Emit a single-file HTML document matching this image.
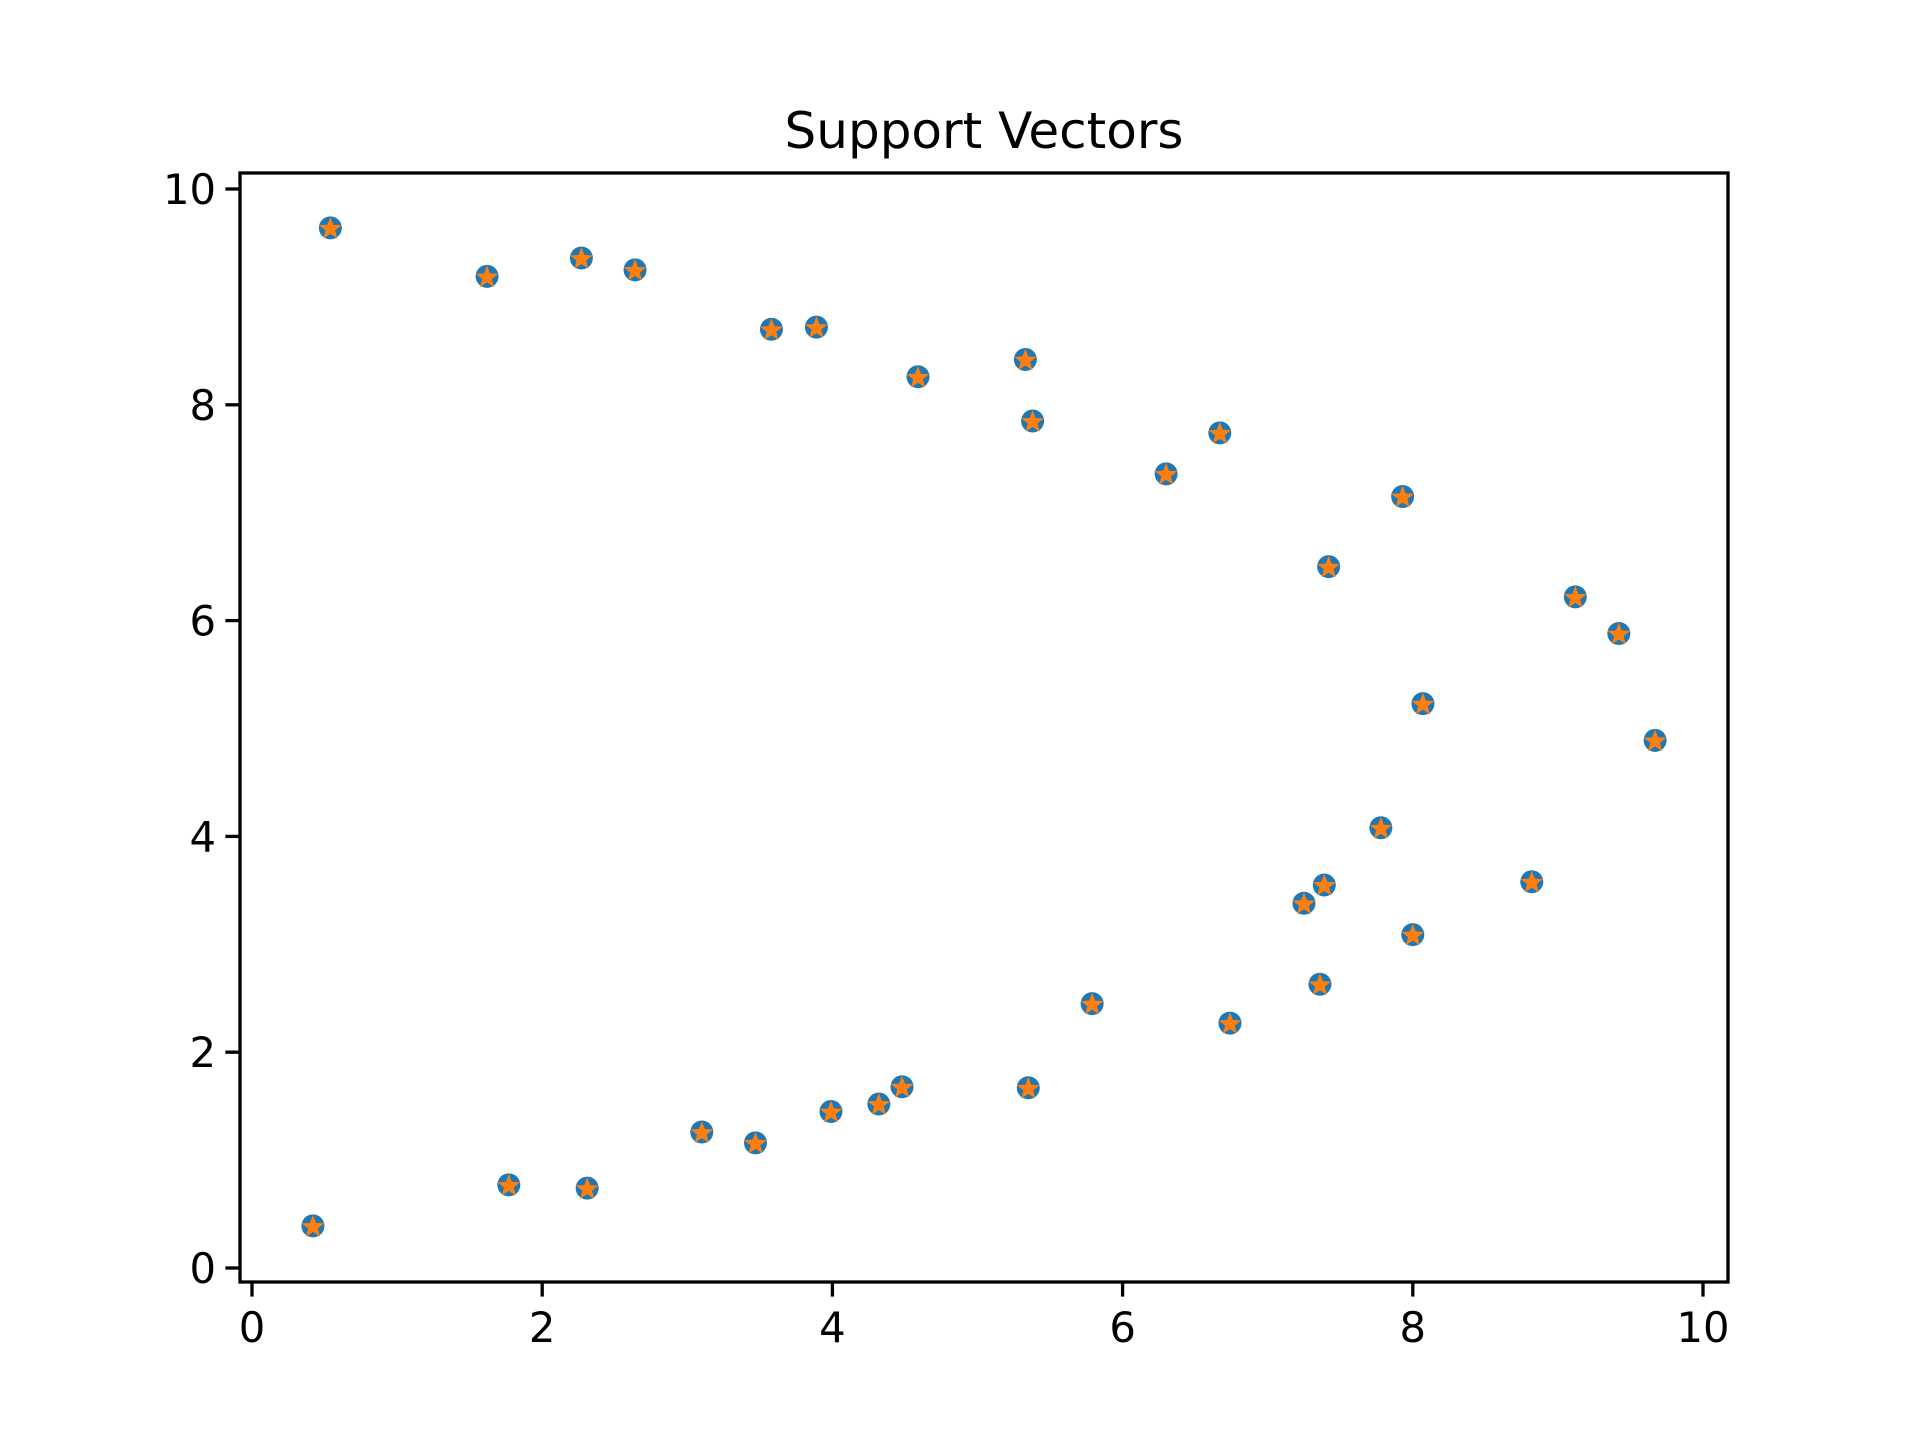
<!DOCTYPE html>
<html><head><meta charset="utf-8"><style>
html,body{margin:0;padding:0;background:#fff;}
svg{display:block;font-family:"DejaVu Sans","Liberation Sans",sans-serif;}
</style></head><body>
<svg id="chart" width="1920" height="1440" viewBox="0 0 1920 1440">
<rect x="0" y="0" width="1920" height="1440" fill="#fff"/>
<text x="984" y="148" font-size="50" text-anchor="middle" fill="#000">Support Vectors</text>
<g id="marks"></g>
<g id="axes"></g>
</svg>
<script>
const xValues = [0.54,1.62,2.27,2.64,3.58,3.89,4.59,5.33,5.38,6.30,6.67,7.93,7.42,9.12,9.42,8.07,9.67,7.78,7.39,7.25,8.82,8.00,7.36,5.79,6.74,5.35,4.48,4.32,3.99,3.10,3.47,1.77,2.31,0.42];
const yValues = [9.64,9.19,9.36,9.25,8.70,8.72,8.26,8.42,7.85,7.36,7.74,7.15,6.50,6.22,5.88,5.23,4.89,4.08,3.55,3.38,3.58,3.09,2.63,2.45,2.27,1.67,1.68,1.52,1.45,1.26,1.16,0.77,0.74,0.39];
const xTicks = [0,2,4,6,8,10];
const yTicks = [0,2,4,6,8,10];

const NS = "http://www.w3.org/2000/svg";
const L=240,R=1728,T=173,B=1282;
function sx(v){return 252 + v*145.1;}
function sy(v){return 1268 - v*107.9;}
function mk(tag,attrs,parent){const e=document.createElementNS(NS,tag);for(const k in attrs)e.setAttribute(k,attrs[k]);parent.appendChild(e);return e;}
const marks=document.getElementById('marks');
const axes=document.getElementById('axes');

function starPts(cx,cy,ro,ri){let p=[];for(let i=0;i<10;i++){const a=-Math.PI/2+i*Math.PI/5;const r=i%2?ri:ro;p.push((cx+r*Math.cos(a)).toFixed(2)+","+(cy+r*Math.sin(a)).toFixed(2));}return p.join(" ");}

for(let i=0;i<xValues.length;i++){
  const cx=sx(xValues[i]), cy=sy(yValues[i]);
  const c=mk('circle',{cx:cx,cy:cy,r:11.5,fill:'#1f77b4'},marks);
  
  
  const s=mk('polygon',{points:starPts(cx,cy+1,12,5),fill:'#ff7f0e'},marks);
  
  
}

const frame=mk('rect',{x:L,y:T,width:R-L,height:B-T,fill:'none',stroke:'#000','stroke-width':3.3},axes);



xTicks.forEach(v=>{
  const x=sx(v);
  const t=mk('line',{x1:x,x2:x,y1:B,y2:B+14.6,stroke:'#000','stroke-width':3.3},axes);
  
  
  const lb=mk('text',{x:x,y:B+60,'font-size':41.7,'text-anchor':'middle',fill:'#000'},axes);
  lb.textContent=v;
  
  
});
yTicks.forEach(v=>{
  const y=sy(v);
  const t=mk('line',{x1:L-14.6,x2:L,y1:y,y2:y,stroke:'#000','stroke-width':3.3},axes);
  
  
  const lb=mk('text',{x:L-24,y:y+15,'font-size':41.7,'text-anchor':'end',fill:'#000'},axes);
  lb.textContent=v;
  
  
});
</script>
</body></html>
